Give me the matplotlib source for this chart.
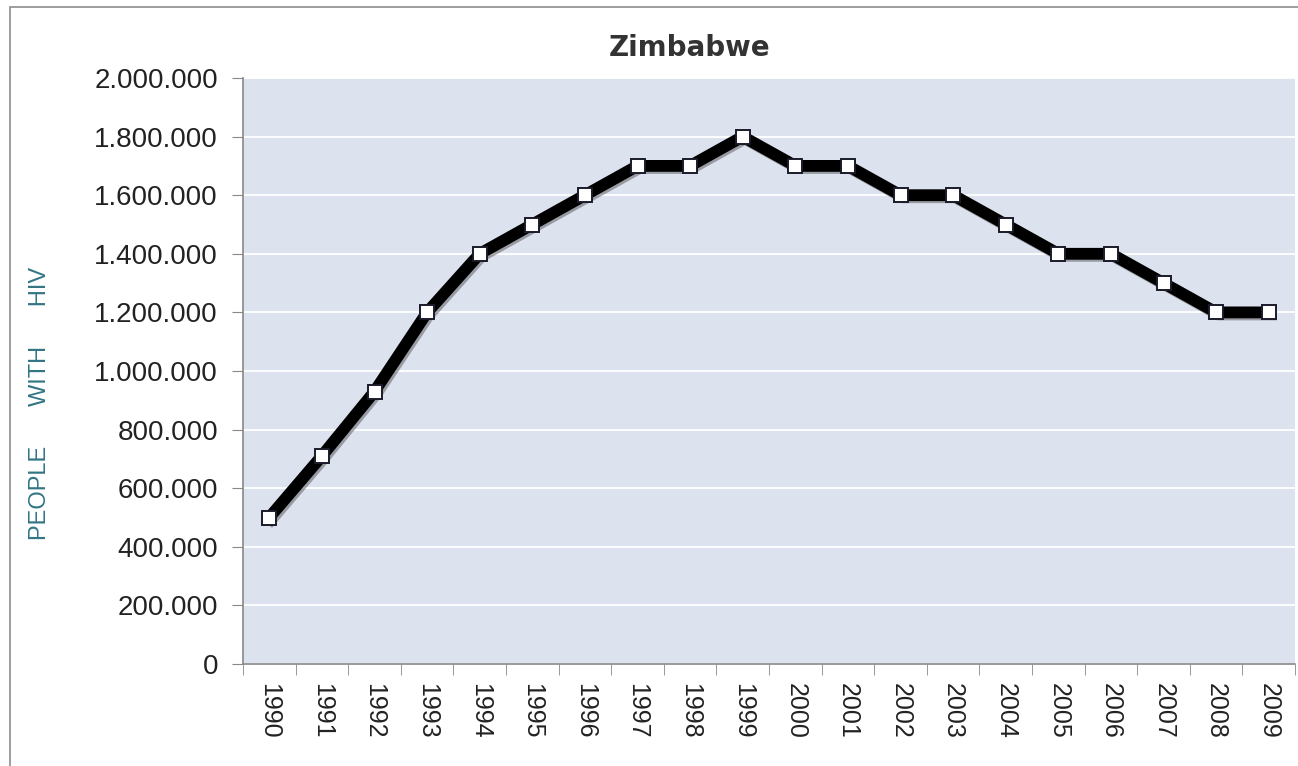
import matplotlib
matplotlib.use("Agg")
import matplotlib.pyplot as plt
import matplotlib.ticker as mticker
import matplotlib.patheffects as pe
from matplotlib.patches import Rectangle

# データ
years = [str(y) for y in range(1990, 2010)]
people_with_hiv = [500000, 710000, 930000, 1200000, 1400000, 1500000, 1600000,
                   1700000, 1700000, 1800000, 1700000, 1700000, 1600000, 1600000,
                   1500000, 1400000, 1400000, 1300000, 1200000, 1200000]
y_ticks = [0, 200000, 400000, 600000, 800000, 1000000, 1200000, 1400000,
           1600000, 1800000, 2000000]

plt.rcParams['font.family'] = ['Liberation Sans', 'DejaVu Sans']

fig = plt.figure(figsize=(12.98, 7.66), dpi=100)
fig.patch.set_facecolor('white')

# 外枠
fig.patches.append(Rectangle((10 / 1298, -0.01), 1.0, 1 - 7 / 766 + 0.01,
                             transform=fig.transFigure, fill=False,
                             edgecolor='#8c8c8c', linewidth=1.2))

ax = fig.add_axes([243 / 1298, 1 - 664 / 766, (1295 - 243) / 1298, (664 - 78) / 766])
ax.set_facecolor('#dce3ef')

x = list(range(len(years)))
ax.plot(x, people_with_hiv, color='black', linewidth=8.5, solid_joinstyle='round',
        path_effects=[pe.SimpleLineShadow(offset=(1.5, -1.5), shadow_color='#555555', alpha=0.5),
                      pe.Normal()], zorder=3)
ax.plot(x, people_with_hiv, linestyle='none', marker='s', markersize=9.5,
        markerfacecolor='white', markeredgecolor='#1a1a2a', markeredgewidth=1.4, zorder=4)

ax.set_xlim(-0.5, len(years) - 0.5)
ax.set_ylim(0, 2000000)
ax.set_yticks(y_ticks)
ax.yaxis.set_major_formatter(mticker.FuncFormatter(lambda v, p: f"{int(v):,}".replace(',', '.')))

ax.set_xticks(x)
ax.set_xticklabels(years, rotation=270, fontsize=18, color='#222222')
ax.set_xticks([i - 0.5 for i in range(len(years) + 1)], minor=True)
ax.tick_params(axis='x', which='major', length=0, pad=14)
ax.tick_params(axis='x', which='minor', length=8, direction='out', color='#888888')
ax.tick_params(axis='y', length=8, direction='out', color='#888888', labelsize=20,
               labelcolor='#222222', pad=10)

ax.grid(axis='y', color='white', linewidth=1.3)
ax.set_axisbelow(True)
for s in ['top', 'right']:
    ax.spines[s].set_visible(False)
for s in ['left', 'bottom']:
    ax.spines[s].set_color('#888888')
    ax.spines[s].set_linewidth(1.2)

fig.text(690 / 1298, 1 - 48 / 766, "Zimbabwe", fontsize=20, fontweight='bold',
         family='DejaVu Sans', color='#333333', ha='center', va='center')
fig.text(40 / 1298, 1 - 403 / 766, "PEOPLE      WITH      HIV", rotation=90, fontsize=17,
         color='#337585', ha='center', va='center')

plt.savefig("out.png", dpi=100)
